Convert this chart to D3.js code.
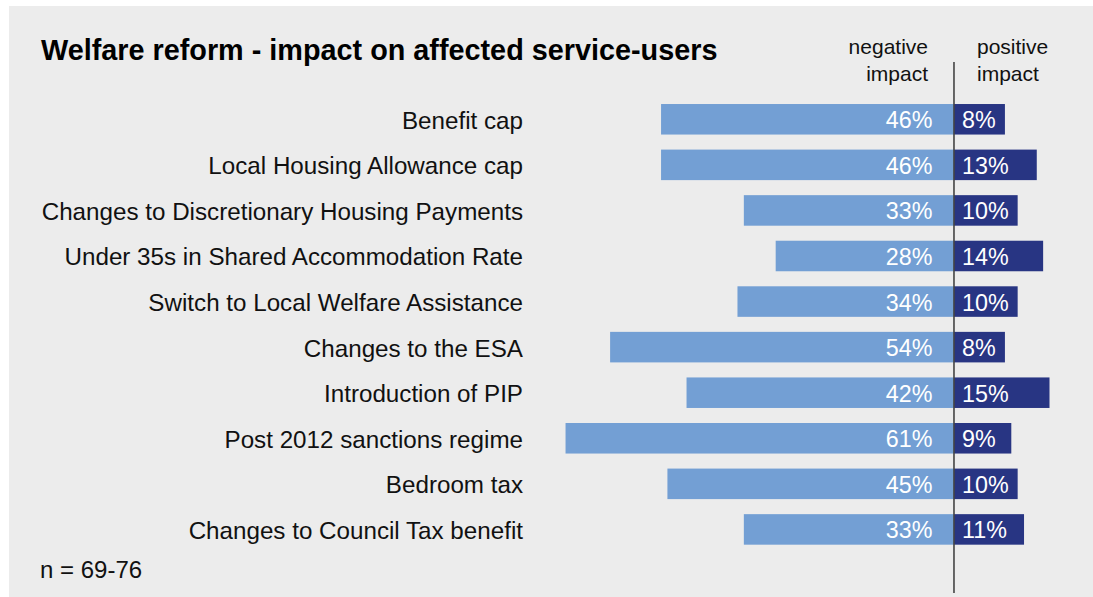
<!DOCTYPE html>
<html><head><meta charset="utf-8">
<script src="https://cdn.jsdelivr.net/npm/d3@7"></script>
<style>
html,body{margin:0;padding:0;background:#fff;}
svg{display:block;font-family:"Liberation Sans",Arial,Helvetica,sans-serif;}
</style></head>
<body><svg id="c" width="1093" height="597"></svg>
<script>
const categories = ["Benefit cap","Local Housing Allowance cap","Changes to Discretionary Housing Payments","Under 35s in Shared Accommodation Rate","Switch to Local Welfare Assistance","Changes to the ESA","Introduction of PIP","Post 2012 sanctions regime","Bedroom tax","Changes to Council Tax benefit"];
const negative = [46,46,33,28,34,54,42,61,45,33];
const positive = [8,13,10,14,10,8,15,9,10,11];
const title = "Welfare reform - impact on affected service-users";
const headerNeg = ["negative","impact"];
const headerPos = ["positive","impact"];
const note = "n = 69-76";

const svg = d3.select("#c");
svg.append("rect").attr("x",9).attr("y",6).attr("width",1084).attr("height",591).attr("fill","#ececec");

const x = d3.scaleLinear().domain([-61,15]).range([953.5-61*6.36, 953.5+15*6.4]);
const y = d3.scaleBand().domain(categories).range([96.5, 96.5+10*45.57]).paddingInner(0.33).paddingOuter(0.165);

const rows = svg.append("g").selectAll("g").data(categories).join("g");
rows.append("rect").attr("x",(d,i)=>x(-negative[i])).attr("y",d=>y(d))
  .attr("width",(d,i)=>x(0)-x(-negative[i])).attr("height",y.bandwidth()).attr("fill","#739fd4");
rows.append("rect").attr("x",x(0)).attr("y",d=>y(d))
  .attr("width",(d,i)=>x(positive[i])-x(0)).attr("height",y.bandwidth()).attr("fill","#283583");
rows.append("text").attr("x",523).attr("y",d=>y(d)+y.bandwidth()/2+9.5).attr("text-anchor","end")
  .attr("font-size",24.2).attr("fill","#111").text(d=>d);
rows.append("text").attr("x",x(0)-21.5).attr("y",d=>y(d)+y.bandwidth()/2+9).attr("text-anchor","end")
  .attr("font-size",23.3).attr("fill","#fff").text((d,i)=>negative[i]+"%");
rows.append("text").attr("x",x(0)+8).attr("y",d=>y(d)+y.bandwidth()/2+9).attr("text-anchor","start")
  .attr("font-size",23.3).attr("fill","#fff").text((d,i)=>positive[i]+"%");

svg.append("line").attr("x1",x(0)).attr("x2",x(0)).attr("y1",62).attr("y2",593)
  .attr("stroke","#444").attr("stroke-width",1.6);

svg.append("text").attr("x",41).attr("y",60).attr("font-size",28.8).attr("font-weight","bold").attr("fill","#000").text(title);
svg.append("text").attr("x",928).attr("y",54).attr("text-anchor","end").attr("font-size",21).attr("fill","#111")
  .selectAll("tspan").data(headerNeg).join("tspan").attr("x",928).attr("dy",(d,i)=>i?26.5:0).text(d=>d);
svg.append("text").attr("x",977).attr("y",54).attr("text-anchor","start").attr("font-size",21).attr("fill","#111")
  .selectAll("tspan").data(headerPos).join("tspan").attr("x",977).attr("dy",(d,i)=>i?26.5:0).text(d=>d);
svg.append("text").attr("x",40).attr("y",578).attr("font-size",24).attr("fill","#111").text(note);
</script></body></html>
